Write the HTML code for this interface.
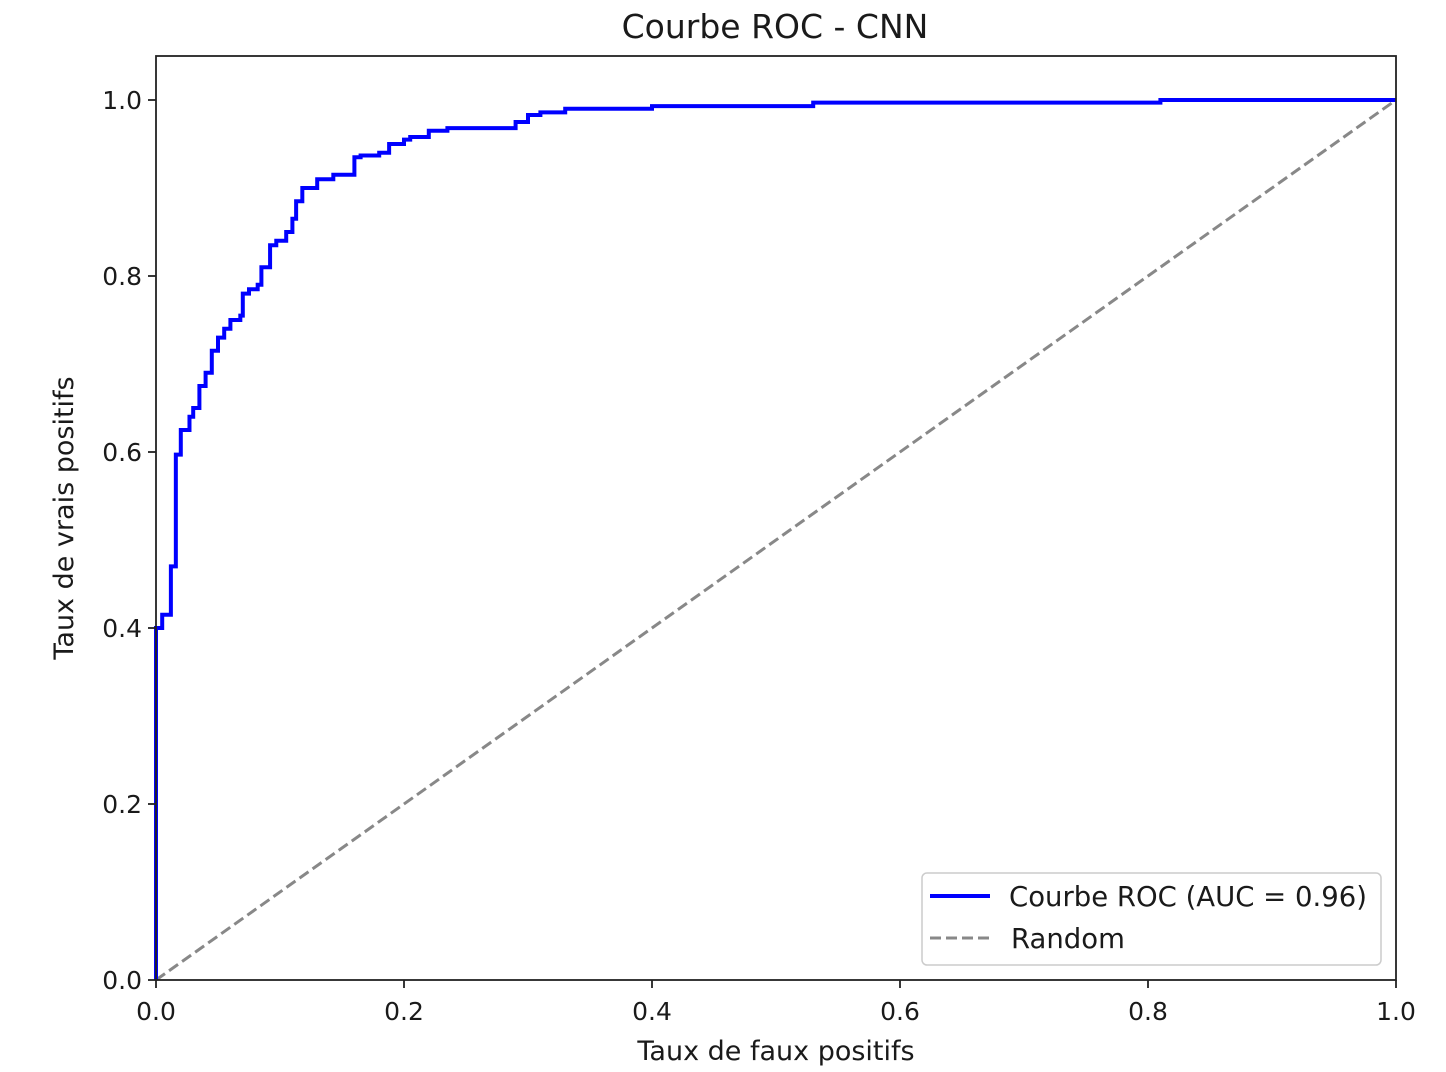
<!DOCTYPE html>
<html><head><meta charset="utf-8"><style>
html,body{margin:0;padding:0;background:#fff;}
svg{display:block;font-family:"DejaVu Sans","Liberation Sans",sans-serif;}
</style></head><body>
<svg id="chart" width="1446" height="1072" viewBox="0 0 1446 1072">
<text x="775" y="38" font-size="33" text-anchor="middle" fill="#1a1a1a">Courbe ROC - CNN</text>
<g id="diag"></g>
<g id="curve"></g>
<rect x="156" y="56" width="1240" height="924" fill="none" stroke="#222" stroke-width="1.8"/>
<g id="xticks"></g>
<g id="yticks"></g>
<text x="776" y="1060" font-size="27" text-anchor="middle" fill="#1a1a1a">Taux de faux positifs</text>
<text transform="translate(73,518) rotate(-90)" font-size="27" text-anchor="middle" fill="#1a1a1a">Taux de vrais positifs</text>
<g>
<rect x="922" y="873" width="459" height="92" rx="5" fill="#fff" fill-opacity="0.8" stroke="#ccc" stroke-width="1.5"/>
<line x1="930" y1="896" x2="990" y2="896" stroke="#0000ff" stroke-width="4"/>
<text x="1009" y="906" font-size="27.5" fill="#1a1a1a">Courbe ROC (AUC = 0.96)</text>
<line x1="930" y1="938" x2="990" y2="938" stroke="#888" stroke-width="3" stroke-dasharray="11,5"/>
<text x="1011" y="948" font-size="27.5" fill="#1a1a1a">Random</text>
</g>
</svg>
<script>
const fpr=[0,0,0.005,0.012,0.016,0.02,0.027,0.03,0.035,0.04,0.045,0.05,0.055,0.06,0.068,0.07,0.075,0.082,0.085,0.092,0.097,0.105,0.11,0.113,0.118,0.13,0.143,0.16,0.165,0.18,0.188,0.2,0.205,0.22,0.235,0.29,0.3,0.31,0.33,0.4,0.53,0.81,1];
const tpr=[0,0.40,0.415,0.47,0.597,0.625,0.64,0.65,0.675,0.69,0.715,0.73,0.74,0.75,0.755,0.78,0.785,0.79,0.81,0.835,0.84,0.85,0.865,0.885,0.90,0.91,0.915,0.935,0.937,0.94,0.95,0.955,0.958,0.965,0.968,0.975,0.983,0.986,0.99,0.993,0.997,1.0,1.0];
const xTicks=["0.0","0.2","0.4","0.6","0.8","1.0"];
const yTicks=["0.0","0.2","0.4","0.6","0.8","1.0"];
const NS="http://www.w3.org/2000/svg";
const X=v=>156+v*1240, Y=v=>980-v*880;
let d="M"+X(fpr[0])+","+Y(tpr[0]);
for(let i=1;i<fpr.length;i++){d+=" H"+X(fpr[i])+" V"+Y(tpr[i]);}
const p=document.createElementNS(NS,"path");
p.setAttribute("d",d);p.setAttribute("fill","none");p.setAttribute("stroke","#0000ff");p.setAttribute("stroke-width","4");


document.getElementById("curve").appendChild(p);
const l=document.createElementNS(NS,"line");
l.setAttribute("x1",X(0));l.setAttribute("y1",Y(0));l.setAttribute("x2",X(1));l.setAttribute("y2",Y(1));
l.setAttribute("stroke","#888");l.setAttribute("stroke-width","3");l.setAttribute("stroke-dasharray","11,5");


document.getElementById("diag").appendChild(l);
xTicks.forEach(t=>{const v=parseFloat(t);
 const tk=document.createElementNS(NS,"line");
 tk.setAttribute("x1",X(v));tk.setAttribute("x2",X(v));tk.setAttribute("y1",980);tk.setAttribute("y2",988);tk.setAttribute("stroke","#222");tk.setAttribute("stroke-width","1.8");
 
 
 const tx=document.createElementNS(NS,"text");
 tx.setAttribute("x",X(v));tx.setAttribute("y",1020);tx.setAttribute("font-size","25");tx.setAttribute("text-anchor","middle");tx.setAttribute("fill","#1a1a1a");tx.textContent=t;
 
 
 document.getElementById("xticks").append(tk,tx);});
yTicks.forEach(t=>{const v=parseFloat(t);
 const tk=document.createElementNS(NS,"line");
 tk.setAttribute("x1",148);tk.setAttribute("x2",156);tk.setAttribute("y1",Y(v));tk.setAttribute("y2",Y(v));tk.setAttribute("stroke","#222");tk.setAttribute("stroke-width","1.8");
 
 
 const tx=document.createElementNS(NS,"text");
 tx.setAttribute("x",142);tx.setAttribute("y",Y(v)+9);tx.setAttribute("font-size","25");tx.setAttribute("text-anchor","end");tx.setAttribute("fill","#1a1a1a");tx.textContent=t;
 
 
 document.getElementById("yticks").append(tk,tx);});
</script>
</body></html>
